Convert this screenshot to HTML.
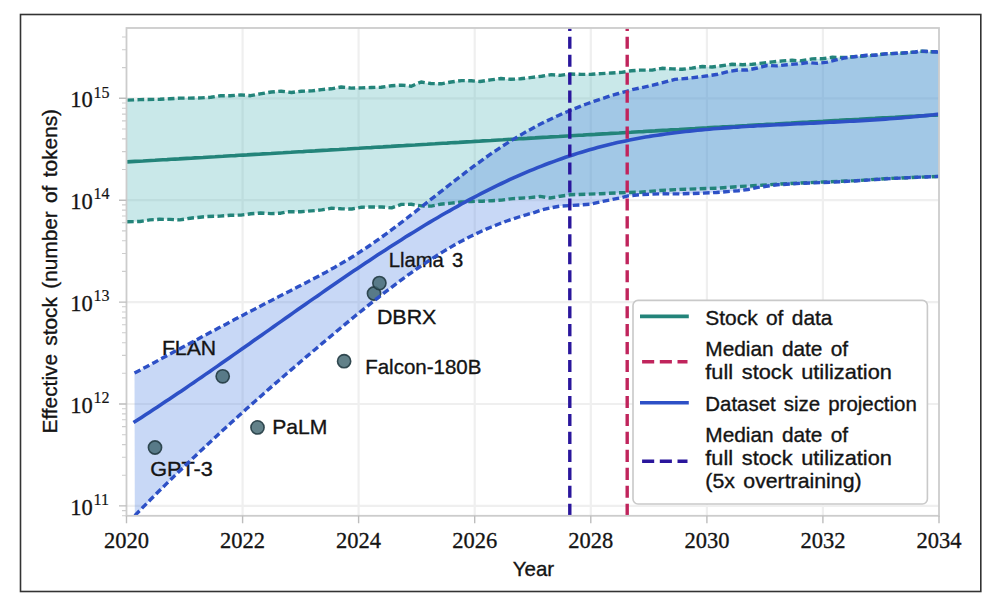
<!DOCTYPE html><html><head><meta charset="utf-8"><style>html,body{margin:0;padding:0;background:#fff;overflow:hidden;width:987px;height:595px;}svg{display:block;}</style></head><body><svg width="987" height="595" viewBox="0 0 987 595">
<rect x="0" y="0" width="987" height="595" fill="#fff"/>
<rect x="20.5" y="14.5" width="960.3" height="577" fill="none" stroke="#333" stroke-width="1.6"/>
<defs><clipPath id="ax"><rect x="126.5" y="28.0" width="812.5" height="487.8"/></clipPath></defs>
<path d="M242.6,28.0V515.8M358.6,28.0V515.8M474.7,28.0V515.8M590.8,28.0V515.8M706.9,28.0V515.8M822.9,28.0V515.8M126.5,505.9H939.0M126.5,404.0H939.0M126.5,302.1H939.0M126.5,200.2H939.0M126.5,98.3H939.0" stroke="#efefef" stroke-width="2.2" fill="none"/>
<g clip-path="url(#ax)">
<path d="M126.5,100.1L127.4,100.1 L140.0,99.6 L160.0,99.3 L170.0,98.7 L180.0,98.1 L189.7,98.1 L201.1,97.9 L210.8,97.3 L220.5,95.7 L230.2,95.7 L240.8,94.9 L250.5,95.7 L260.0,93.9 L271.3,92.0 L281.1,91.2 L291.6,92.5 L301.3,91.2 L311.9,90.9 L321.6,89.6 L331.3,88.8 L341.3,87.0 L351.1,88.1 L361.6,87.9 L371.3,87.5 L381.1,87.3 L391.6,85.7 L401.3,85.1 L411.3,86.2 L421.1,82.0 L430.8,83.5 L441.3,83.8 L451.0,82.0 L461.6,80.6 L471.3,80.8 L480.0,81.5 L490.5,79.9 L501.0,78.5 L510.8,79.3 L520.5,78.8 L531.9,77.4 L541.6,76.2 L551.3,74.6 L560.0,75.4 L569.7,74.0 L581.1,74.4 L591.6,74.3 L601.3,73.6 L611.9,73.0 L621.6,72.4 L631.3,70.8 L640.0,70.1 L652.2,70.1 L661.9,68.3 L672.4,68.9 L682.1,69.3 L691.9,68.1 L702.4,66.5 L712.1,67.0 L720.0,66.0 L732.2,64.3 L742.7,64.7 L752.4,64.3 L762.1,63.1 L772.7,61.9 L782.4,60.9 L792.1,60.3 L800.0,60.9 L812.2,58.9 L822.7,58.7 L832.4,57.3 L845.4,57.5 L856.7,56.4 L870.0,55.6 L885.2,53.9 L900.4,53.2 L915.6,52.0 L920.2,51.2 L930.8,51.7 L939.0,51.8 L939.0,176.4 L884.8,178.7 L857.1,180.6 L823.8,182.0 L780.0,184.0 L753.0,185.8 L740.8,186.4 L716.5,188.2 L680.0,189.4 L660.0,190.5 L640.0,192.2 L621.0,192.7 L600.8,193.7 L570.4,194.7 L560.3,196.2 L550.1,198.0 L540.0,196.4 L530.0,197.6 L520.0,198.2 L512.9,198.6 L501.6,200.1 L491.9,200.7 L482.1,201.2 L471.6,201.5 L461.1,202.0 L451.3,203.1 L440.0,204.3 L431.3,206.1 L421.6,205.9 L411.1,204.3 L401.3,204.4 L391.6,207.9 L381.9,207.0 L372.2,207.0 L361.6,207.2 L351.8,209.0 L341.3,208.8 L331.6,208.2 L321.8,209.9 L311.3,210.9 L300.8,211.7 L287.0,211.8 L280.7,213.2 L271.0,213.6 L260.5,213.0 L250.8,213.8 L241.0,215.1 L230.5,215.3 L220.0,216.1 L207.0,216.5 L199.9,217.2 L190.2,218.2 L179.7,219.9 L170.0,219.4 L159.4,219.3 L149.7,219.9 L140.0,221.5 L127.0,221.7 L126.5,221.7Z" fill="#5ab8bd" fill-opacity="0.33"/>
<path d="M134.5,373.1 L138.5,371.0 L142.5,368.8 L146.5,366.7 L150.5,364.5 L154.5,362.4 L158.5,360.2 L162.5,358.1 L166.5,355.9 L170.5,353.8 L174.5,351.6 L178.5,349.5 L182.5,347.3 L186.5,345.2 L190.5,343.0 L194.5,340.9 L198.5,338.8 L202.5,336.6 L206.5,334.5 L210.5,332.3 L214.5,330.2 L218.5,328.1 L222.5,326.0 L226.5,323.9 L230.5,321.7 L234.5,319.6 L238.5,317.5 L242.5,315.4 L246.5,313.3 L250.5,311.2 L254.5,309.2 L258.5,307.1 L262.5,305.0 L266.5,302.9 L270.5,300.9 L274.5,298.8 L278.5,296.8 L282.5,294.7 L286.5,292.7 L290.5,290.7 L294.5,288.6 L298.5,286.6 L302.5,284.5 L306.5,282.5 L310.5,280.4 L314.5,278.3 L318.5,276.2 L322.5,274.0 L326.5,271.9 L330.5,269.6 L334.5,267.4 L338.5,265.1 L342.5,262.8 L346.5,260.4 L350.5,258.0 L354.5,255.5 L358.5,252.9 L362.5,250.3 L366.5,247.7 L370.5,245.0 L374.5,242.2 L378.5,239.4 L382.5,236.5 L386.5,233.6 L390.5,230.6 L394.5,227.6 L398.5,224.6 L402.5,221.6 L406.5,218.5 L410.5,215.4 L414.5,212.3 L418.5,209.2 L422.5,206.0 L426.5,202.9 L430.5,199.7 L434.5,196.6 L438.5,193.4 L442.5,190.3 L446.5,187.1 L450.5,184.0 L454.5,180.9 L458.5,177.8 L462.5,174.8 L466.5,171.7 L470.5,168.7 L474.5,165.7 L478.5,162.8 L482.5,159.9 L486.5,157.0 L490.5,154.2 L494.5,151.5 L498.5,148.8 L502.5,146.1 L506.5,143.6 L510.5,141.0 L514.5,138.6 L518.5,136.2 L522.5,133.9 L526.5,131.6 L530.5,129.4 L534.5,127.2 L538.5,125.1 L542.5,123.1 L546.5,121.1 L550.5,119.2 L554.5,117.3 L558.5,115.5 L562.5,113.7 L566.5,112.0 L570.5,110.3 L574.5,108.7 L578.5,107.1 L582.5,105.5 L586.5,104.0 L590.5,102.6 L594.5,101.2 L598.5,99.8 L602.5,98.5 L606.5,97.2 L610.5,95.9 L614.5,94.7 L618.5,93.5 L622.5,92.4 L626.5,91.3 L630.5,90.2 L634.5,89.1 L640.0,88.0 L646.4,86.6 L661.7,83.0 L674.8,79.4 L688.6,78.2 L698.3,77.0 L708.1,75.8 L717.8,74.2 L728.1,71.6 L737.8,70.0 L747.6,70.0 L757.3,68.0 L767.0,65.5 L776.7,65.9 L787.3,64.7 L797.8,63.9 L808.1,62.6 L817.8,63.4 L827.6,62.1 L837.3,59.7 L845.4,57.7 L856.7,56.5 L866.5,55.3 L875.0,55.2 L885.2,53.9 L900.4,53.2 L915.6,52.0 L920.2,51.0 L930.8,51.7 L939.0,52.0 L939.0,176.4 L910.0,177.6 L884.8,178.9 L857.1,180.8 L830.0,182.3 L800.0,183.4 L777.3,184.8 L757.8,187.4 L748.0,189.5 L738.4,190.7 L716.5,192.5 L700.0,193.2 L680.0,193.9 L660.0,193.8 L640.0,194.6 L628.1,195.9 L621.0,197.7 L610.9,199.8 L600.8,201.8 L590.7,204.2 L580.5,204.9 L569.4,205.6 L560.3,206.1 L550.1,207.9 L540.0,210.4 L534.8,212.3 L530.8,213.4 L526.8,214.6 L522.8,215.7 L518.8,217.0 L514.8,218.3 L510.8,219.6 L506.8,221.0 L502.8,222.5 L498.8,224.0 L494.8,225.6 L490.8,227.2 L486.8,228.9 L482.8,230.6 L478.8,232.5 L474.8,234.4 L470.8,236.3 L466.8,238.3 L462.8,240.4 L458.8,242.6 L454.8,244.8 L450.8,247.1 L446.8,249.5 L442.8,251.9 L438.8,254.3 L434.8,256.9 L430.8,259.4 L426.8,262.1 L422.8,264.8 L418.8,267.5 L414.8,270.3 L410.8,273.1 L406.8,275.9 L402.8,278.9 L398.8,281.8 L394.8,284.8 L390.8,287.8 L386.8,290.9 L382.8,293.9 L378.8,297.1 L374.8,300.2 L370.8,303.4 L366.8,306.6 L362.8,309.8 L358.8,313.0 L354.8,316.3 L350.8,319.6 L346.8,322.9 L342.8,326.2 L338.8,329.5 L334.8,332.9 L330.8,336.2 L326.8,339.6 L322.8,342.9 L318.8,346.3 L314.8,349.7 L310.8,353.0 L306.8,356.4 L302.8,359.8 L298.8,363.3 L294.8,366.7 L290.8,370.1 L286.8,373.5 L282.8,377.0 L278.8,380.5 L274.8,383.9 L270.8,387.4 L266.8,390.9 L262.8,394.4 L258.8,398.0 L254.8,401.5 L250.8,405.0 L246.8,408.6 L242.8,412.2 L238.8,415.8 L234.8,419.4 L230.8,423.0 L226.8,426.7 L222.8,430.3 L218.8,434.0 L214.8,437.7 L210.8,441.4 L206.8,445.1 L202.8,448.9 L198.8,452.6 L194.8,456.4 L190.8,460.2 L186.8,464.0 L182.8,467.9 L178.8,471.7 L174.8,475.6 L170.8,479.5 L166.8,483.4 L162.8,487.4 L158.8,491.3 L154.8,495.3 L150.8,499.3 L146.8,503.4 L142.8,507.4 L138.8,511.5 L134.8,515.6Z" fill="#4a7de0" fill-opacity="0.3"/>
</g>
<circle cx="155" cy="447.5" r="6.6" fill="#40656f" fill-opacity="0.82" stroke="#233c44" stroke-width="1.6" stroke-opacity="0.9"/>
<circle cx="222.7" cy="376.3" r="6.6" fill="#40656f" fill-opacity="0.82" stroke="#233c44" stroke-width="1.6" stroke-opacity="0.9"/>
<circle cx="257.5" cy="427.4" r="6.6" fill="#40656f" fill-opacity="0.82" stroke="#233c44" stroke-width="1.6" stroke-opacity="0.9"/>
<circle cx="344.1" cy="361.2" r="6.6" fill="#40656f" fill-opacity="0.82" stroke="#233c44" stroke-width="1.6" stroke-opacity="0.9"/>
<circle cx="374" cy="293.5" r="6.6" fill="#40656f" fill-opacity="0.82" stroke="#233c44" stroke-width="1.6" stroke-opacity="0.9"/>
<circle cx="379.4" cy="283.1" r="6.6" fill="#40656f" fill-opacity="0.82" stroke="#233c44" stroke-width="1.6" stroke-opacity="0.9"/>
<text x="150.3" y="475.5" font-family="Liberation Sans, Arial, sans-serif" font-size="21.0" fill="#141414" stroke="#141414" stroke-width="0.35" word-spacing="2.5" textLength="62.5" lengthAdjust="spacingAndGlyphs">GPT-3</text>
<text x="161.9" y="354.8" font-family="Liberation Sans, Arial, sans-serif" font-size="21.0" fill="#141414" stroke="#141414" stroke-width="0.35" word-spacing="2.5" textLength="54.2" lengthAdjust="spacingAndGlyphs">FLAN</text>
<text x="272.2" y="434.2" font-family="Liberation Sans, Arial, sans-serif" font-size="21.0" fill="#141414" stroke="#141414" stroke-width="0.35" word-spacing="2.5" textLength="55.2" lengthAdjust="spacingAndGlyphs">PaLM</text>
<text x="365.2" y="373.7" font-family="Liberation Sans, Arial, sans-serif" font-size="21.0" fill="#141414" stroke="#141414" stroke-width="0.35" word-spacing="2.5" textLength="116.2" lengthAdjust="spacingAndGlyphs">Falcon-180B</text>
<text x="376.9" y="324" font-family="Liberation Sans, Arial, sans-serif" font-size="21.0" fill="#141414" stroke="#141414" stroke-width="0.35" word-spacing="2.5" textLength="59.5" lengthAdjust="spacingAndGlyphs">DBRX</text>
<text x="388.7" y="266.7" font-family="Liberation Sans, Arial, sans-serif" font-size="21.0" fill="#141414" stroke="#141414" stroke-width="0.35" word-spacing="2.5" textLength="74.5" lengthAdjust="spacingAndGlyphs">Llama 3</text>
<g clip-path="url(#ax)" fill="none" stroke-linejoin="round">
<path d="M127.4,100.1 L140.0,99.6 L160.0,99.3 L170.0,98.7 L180.0,98.1 L189.7,98.1 L201.1,97.9 L210.8,97.3 L220.5,95.7 L230.2,95.7 L240.8,94.9 L250.5,95.7 L260.0,93.9 L271.3,92.0 L281.1,91.2 L291.6,92.5 L301.3,91.2 L311.9,90.9 L321.6,89.6 L331.3,88.8 L341.3,87.0 L351.1,88.1 L361.6,87.9 L371.3,87.5 L381.1,87.3 L391.6,85.7 L401.3,85.1 L411.3,86.2 L421.1,82.0 L430.8,83.5 L441.3,83.8 L451.0,82.0 L461.6,80.6 L471.3,80.8 L480.0,81.5 L490.5,79.9 L501.0,78.5 L510.8,79.3 L520.5,78.8 L531.9,77.4 L541.6,76.2 L551.3,74.6 L560.0,75.4 L569.7,74.0 L581.1,74.4 L591.6,74.3 L601.3,73.6 L611.9,73.0 L621.6,72.4 L631.3,70.8 L640.0,70.1 L652.2,70.1 L661.9,68.3 L672.4,68.9 L682.1,69.3 L691.9,68.1 L702.4,66.5 L712.1,67.0 L720.0,66.0 L732.2,64.3 L742.7,64.7 L752.4,64.3 L762.1,63.1 L772.7,61.9 L782.4,60.9 L792.1,60.3 L800.0,60.9 L812.2,58.9 L822.7,58.7 L832.4,57.3 L845.4,57.5 L856.7,56.4 L870.0,55.6 L885.2,53.9 L900.4,53.2 L915.6,52.0 L920.2,51.2 L930.8,51.7 L939.0,51.8" stroke="#23847a" stroke-width="3.4" stroke-dasharray="6.7 3.4"/>
<path d="M127.0,221.7 L140.0,221.5 L149.7,219.9 L159.4,219.3 L170.0,219.4 L179.7,219.9 L190.2,218.2 L199.9,217.2 L207.0,216.5 L220.0,216.1 L230.5,215.3 L241.0,215.1 L250.8,213.8 L260.5,213.0 L271.0,213.6 L280.7,213.2 L287.0,211.8 L300.8,211.7 L311.3,210.9 L321.8,209.9 L331.6,208.2 L341.3,208.8 L351.8,209.0 L361.6,207.2 L372.2,207.0 L381.9,207.0 L391.6,207.9 L401.3,204.4 L411.1,204.3 L421.6,205.9 L431.3,206.1 L440.0,204.3 L451.3,203.1 L461.1,202.0 L471.6,201.5 L482.1,201.2 L491.9,200.7 L501.6,200.1 L512.9,198.6 L520.0,198.2 L530.0,197.6 L540.0,196.4 L550.1,198.0 L560.3,196.2 L570.4,194.7 L600.8,193.7 L621.0,192.7 L640.0,192.2 L660.0,190.5 L680.0,189.4 L716.5,188.2 L740.8,186.4 L753.0,185.8 L780.0,184.0 L823.8,182.0 L857.1,180.6 L884.8,178.7 L939.0,176.4" stroke="#23847a" stroke-width="3.4" stroke-dasharray="6.7 3.4"/>
<path d="M127.0,161.9 L131.0,161.6 L135.0,161.4 L139.0,161.2 L143.0,161.0 L147.0,160.7 L151.0,160.5 L155.0,160.3 L159.0,160.0 L163.0,159.8 L167.0,159.6 L171.0,159.3 L175.0,159.1 L179.0,158.9 L183.0,158.6 L187.0,158.4 L191.0,158.2 L195.0,157.9 L199.0,157.7 L203.0,157.5 L207.0,157.2 L211.0,157.0 L215.0,156.8 L219.0,156.5 L223.0,156.3 L227.0,156.0 L231.0,155.8 L235.0,155.6 L239.0,155.3 L243.0,155.1 L247.0,154.9 L251.0,154.6 L255.0,154.4 L259.0,154.2 L263.0,153.9 L267.0,153.7 L271.0,153.5 L275.0,153.2 L279.0,153.0 L283.0,152.8 L287.0,152.5 L291.0,152.3 L295.0,152.0 L299.0,151.8 L303.0,151.6 L307.0,151.3 L311.0,151.1 L315.0,150.9 L319.0,150.6 L323.0,150.4 L327.0,150.2 L331.0,149.9 L335.0,149.7 L339.0,149.5 L343.0,149.2 L347.0,149.0 L351.0,148.7 L355.0,148.5 L359.0,148.3 L363.0,148.0 L367.0,147.8 L371.0,147.6 L375.0,147.3 L379.0,147.1 L383.0,146.9 L387.0,146.6 L391.0,146.4 L395.0,146.1 L399.0,145.9 L403.0,145.7 L407.0,145.4 L411.0,145.2 L415.0,145.0 L419.0,144.7 L423.0,144.5 L427.0,144.3 L431.0,144.0 L435.0,143.8 L439.0,143.5 L443.0,143.3 L447.0,143.1 L451.0,142.8 L455.0,142.6 L459.0,142.4 L463.0,142.1 L467.0,141.9 L471.0,141.7 L475.0,141.4 L479.0,141.2 L483.0,140.9 L487.0,140.7 L491.0,140.5 L495.0,140.2 L499.0,140.0 L503.0,139.8 L507.0,139.5 L511.0,139.3 L515.0,139.1 L519.0,138.8 L523.0,138.6 L527.0,138.4 L531.0,138.1 L535.0,137.9 L539.0,137.6 L543.0,137.4 L547.0,137.2 L551.0,136.9 L555.0,136.7 L559.0,136.5 L563.0,136.2 L567.0,136.0 L571.0,135.8 L575.0,135.5 L579.0,135.3 L583.0,135.1 L587.0,134.8 L591.0,134.6 L595.0,134.4 L599.0,134.1 L603.0,133.9 L607.0,133.7 L611.0,133.4 L615.0,133.2 L619.0,133.0 L623.0,132.7 L627.0,132.5 L631.0,132.3 L635.0,132.0 L639.0,131.8 L643.0,131.6 L647.0,131.3 L651.0,131.1 L655.0,130.9 L659.0,130.6 L663.0,130.4 L667.0,130.2 L671.0,129.9 L675.0,129.7 L679.0,129.5 L683.0,129.2 L687.0,129.0 L691.0,128.8 L695.0,128.6 L699.0,128.3 L703.0,128.1 L707.0,127.9 L711.0,127.6 L715.0,127.4 L719.0,127.2 L723.0,126.9 L727.0,126.7 L731.0,126.5 L735.0,126.3 L739.0,126.0 L743.0,125.8 L747.0,125.6 L751.0,125.3 L755.0,125.1 L759.0,124.9 L763.0,124.7 L767.0,124.4 L771.0,124.2 L775.0,124.0 L779.0,123.7 L783.0,123.5 L787.0,123.3 L791.0,123.1 L795.0,122.8 L799.0,122.6 L803.0,122.4 L807.0,122.2 L811.0,121.9 L815.0,121.7 L819.0,121.5 L823.0,121.3 L827.0,121.0 L831.0,120.8 L835.0,120.6 L839.0,120.4 L843.0,120.1 L847.0,119.9 L851.0,119.7 L855.0,119.5 L859.0,119.3 L863.0,119.0 L867.0,118.8 L871.0,118.6 L875.0,118.4 L879.0,118.1 L883.0,117.9 L887.0,117.7 L891.0,117.5 L895.0,117.3 L899.0,117.0 L903.0,116.8 L907.0,116.6 L911.0,116.4 L915.0,116.2 L919.0,115.9 L923.0,115.7 L927.0,115.5 L931.0,115.3 L935.0,115.1 L939.0,114.9" stroke="#23847a" stroke-width="3.6"/>
<path d="M134.5,373.1 L138.5,371.0 L142.5,368.8 L146.5,366.7 L150.5,364.5 L154.5,362.4 L158.5,360.2 L162.5,358.1 L166.5,355.9 L170.5,353.8 L174.5,351.6 L178.5,349.5 L182.5,347.3 L186.5,345.2 L190.5,343.0 L194.5,340.9 L198.5,338.8 L202.5,336.6 L206.5,334.5 L210.5,332.3 L214.5,330.2 L218.5,328.1 L222.5,326.0 L226.5,323.9 L230.5,321.7 L234.5,319.6 L238.5,317.5 L242.5,315.4 L246.5,313.3 L250.5,311.2 L254.5,309.2 L258.5,307.1 L262.5,305.0 L266.5,302.9 L270.5,300.9 L274.5,298.8 L278.5,296.8 L282.5,294.7 L286.5,292.7 L290.5,290.7 L294.5,288.6 L298.5,286.6 L302.5,284.5 L306.5,282.5 L310.5,280.4 L314.5,278.3 L318.5,276.2 L322.5,274.0 L326.5,271.9 L330.5,269.6 L334.5,267.4 L338.5,265.1 L342.5,262.8 L346.5,260.4 L350.5,258.0 L354.5,255.5 L358.5,252.9 L362.5,250.3 L366.5,247.7 L370.5,245.0 L374.5,242.2 L378.5,239.4 L382.5,236.5 L386.5,233.6 L390.5,230.6 L394.5,227.6 L398.5,224.6 L402.5,221.6 L406.5,218.5 L410.5,215.4 L414.5,212.3 L418.5,209.2 L422.5,206.0 L426.5,202.9 L430.5,199.7 L434.5,196.6 L438.5,193.4 L442.5,190.3 L446.5,187.1 L450.5,184.0 L454.5,180.9 L458.5,177.8 L462.5,174.8 L466.5,171.7 L470.5,168.7 L474.5,165.7 L478.5,162.8 L482.5,159.9 L486.5,157.0 L490.5,154.2 L494.5,151.5 L498.5,148.8 L502.5,146.1 L506.5,143.6 L510.5,141.0 L514.5,138.6 L518.5,136.2 L522.5,133.9 L526.5,131.6 L530.5,129.4 L534.5,127.2 L538.5,125.1 L542.5,123.1 L546.5,121.1 L550.5,119.2 L554.5,117.3 L558.5,115.5 L562.5,113.7 L566.5,112.0 L570.5,110.3 L574.5,108.7 L578.5,107.1 L582.5,105.5 L586.5,104.0 L590.5,102.6 L594.5,101.2 L598.5,99.8 L602.5,98.5 L606.5,97.2 L610.5,95.9 L614.5,94.7 L618.5,93.5 L622.5,92.4 L626.5,91.3 L630.5,90.2 L634.5,89.1 L640.0,88.0 L646.4,86.6 L661.7,83.0 L674.8,79.4 L688.6,78.2 L698.3,77.0 L708.1,75.8 L717.8,74.2 L728.1,71.6 L737.8,70.0 L747.6,70.0 L757.3,68.0 L767.0,65.5 L776.7,65.9 L787.3,64.7 L797.8,63.9 L808.1,62.6 L817.8,63.4 L827.6,62.1 L837.3,59.7 L845.4,57.7 L856.7,56.5 L866.5,55.3 L875.0,55.2 L885.2,53.9 L900.4,53.2 L915.6,52.0 L920.2,51.0 L930.8,51.7 L939.0,52.0" stroke="#2d50c6" stroke-width="3.4" stroke-dasharray="6.7 3.4"/>
<path d="M134.8,515.6 L138.8,511.5 L142.8,507.4 L146.8,503.4 L150.8,499.3 L154.8,495.3 L158.8,491.3 L162.8,487.4 L166.8,483.4 L170.8,479.5 L174.8,475.6 L178.8,471.7 L182.8,467.9 L186.8,464.0 L190.8,460.2 L194.8,456.4 L198.8,452.6 L202.8,448.9 L206.8,445.1 L210.8,441.4 L214.8,437.7 L218.8,434.0 L222.8,430.3 L226.8,426.7 L230.8,423.0 L234.8,419.4 L238.8,415.8 L242.8,412.2 L246.8,408.6 L250.8,405.0 L254.8,401.5 L258.8,398.0 L262.8,394.4 L266.8,390.9 L270.8,387.4 L274.8,383.9 L278.8,380.5 L282.8,377.0 L286.8,373.5 L290.8,370.1 L294.8,366.7 L298.8,363.3 L302.8,359.8 L306.8,356.4 L310.8,353.0 L314.8,349.7 L318.8,346.3 L322.8,342.9 L326.8,339.6 L330.8,336.2 L334.8,332.9 L338.8,329.5 L342.8,326.2 L346.8,322.9 L350.8,319.6 L354.8,316.3 L358.8,313.0 L362.8,309.8 L366.8,306.6 L370.8,303.4 L374.8,300.2 L378.8,297.1 L382.8,293.9 L386.8,290.9 L390.8,287.8 L394.8,284.8 L398.8,281.8 L402.8,278.9 L406.8,275.9 L410.8,273.1 L414.8,270.3 L418.8,267.5 L422.8,264.8 L426.8,262.1 L430.8,259.4 L434.8,256.9 L438.8,254.3 L442.8,251.9 L446.8,249.5 L450.8,247.1 L454.8,244.8 L458.8,242.6 L462.8,240.4 L466.8,238.3 L470.8,236.3 L474.8,234.4 L478.8,232.5 L482.8,230.6 L486.8,228.9 L490.8,227.2 L494.8,225.6 L498.8,224.0 L502.8,222.5 L506.8,221.0 L510.8,219.6 L514.8,218.3 L518.8,217.0 L522.8,215.7 L526.8,214.6 L530.8,213.4 L534.8,212.3 L540.0,210.4 L550.1,207.9 L560.3,206.1 L569.4,205.6 L580.5,204.9 L590.7,204.2 L600.8,201.8 L610.9,199.8 L621.0,197.7 L628.1,195.9 L640.0,194.6 L660.0,193.8 L680.0,193.9 L700.0,193.2 L716.5,192.5 L738.4,190.7 L748.0,189.5 L757.8,187.4 L777.3,184.8 L800.0,183.4 L830.0,182.3 L857.1,180.8 L884.8,178.9 L910.0,177.6 L939.0,176.4" stroke="#2d50c6" stroke-width="3.4" stroke-dasharray="6.7 3.4"/>
<path d="M133.5,422.5 L137.5,420.0 L141.5,417.4 L145.5,414.8 L149.5,412.2 L153.5,409.6 L157.5,406.9 L161.5,404.3 L165.5,401.6 L169.5,399.0 L173.5,396.3 L177.5,393.6 L181.5,390.9 L185.5,388.2 L189.5,385.4 L193.5,382.7 L197.5,379.9 L201.5,377.2 L205.5,374.4 L209.5,371.7 L213.5,368.9 L217.5,366.1 L221.5,363.3 L225.5,360.5 L229.5,357.7 L233.5,354.9 L237.5,352.1 L241.5,349.3 L245.5,346.5 L249.5,343.7 L253.5,340.8 L257.5,338.0 L261.5,335.2 L265.5,332.4 L269.5,329.6 L273.5,326.7 L277.5,323.9 L281.5,321.1 L285.5,318.3 L289.5,315.5 L293.5,312.6 L297.5,309.8 L301.5,307.0 L305.5,304.2 L309.5,301.4 L313.5,298.6 L317.5,295.9 L321.5,293.1 L325.5,290.3 L329.5,287.5 L333.5,284.8 L337.5,282.0 L341.5,279.3 L345.5,276.6 L349.5,273.8 L353.5,271.1 L357.5,268.4 L361.5,265.8 L365.5,263.1 L369.5,260.4 L373.5,257.8 L377.5,255.1 L381.5,252.5 L385.5,249.9 L389.5,247.3 L393.5,244.7 L397.5,242.2 L401.5,239.7 L405.5,237.1 L409.5,234.6 L413.5,232.2 L417.5,229.7 L421.5,227.2 L425.5,224.8 L429.5,222.4 L433.5,220.0 L437.5,217.7 L441.5,215.3 L445.5,213.0 L449.5,210.8 L453.5,208.5 L457.5,206.3 L461.5,204.0 L465.5,201.9 L469.5,199.7 L473.5,197.6 L477.5,195.5 L481.5,193.4 L485.5,191.3 L489.5,189.3 L493.5,187.3 L497.5,185.4 L501.5,183.5 L505.5,181.6 L509.5,179.7 L513.5,177.9 L517.5,176.1 L521.5,174.3 L525.5,172.6 L529.5,170.9 L533.5,169.3 L537.5,167.7 L541.5,166.1 L545.5,164.5 L549.5,163.0 L553.5,161.6 L557.5,160.1 L561.5,158.7 L565.5,157.3 L569.5,156.0 L573.5,154.7 L577.5,153.4 L581.5,152.2 L585.5,151.0 L589.5,149.8 L593.5,148.7 L597.5,147.6 L601.5,146.5 L605.5,145.5 L609.5,144.5 L613.5,143.6 L617.5,142.6 L621.5,141.7 L625.5,140.9 L629.5,140.1 L633.5,139.3 L637.5,138.5 L641.5,137.8 L645.5,137.1 L649.5,136.4 L653.5,135.8 L657.5,135.2 L661.5,134.6 L665.5,134.0 L669.5,133.5 L673.5,132.9 L677.5,132.5 L681.5,132.0 L685.5,131.5 L689.5,131.1 L693.5,130.7 L697.5,130.3 L701.5,129.9 L705.5,129.5 L709.5,129.2 L713.5,128.8 L717.5,128.5 L721.5,128.2 L725.5,127.9 L729.5,127.6 L733.5,127.3 L737.5,127.1 L741.5,126.8 L745.5,126.5 L749.5,126.3 L753.5,126.1 L757.5,125.8 L761.5,125.6 L765.5,125.4 L769.5,125.2 L773.5,125.0 L777.5,124.8 L781.5,124.6 L785.5,124.4 L789.5,124.2 L793.5,124.0 L797.5,123.8 L801.5,123.6 L805.5,123.4 L809.5,123.2 L813.5,123.1 L817.5,122.9 L821.5,122.7 L825.5,122.5 L829.5,122.3 L833.5,122.1 L837.5,121.9 L841.5,121.7 L845.5,121.5 L849.5,121.3 L853.5,121.1 L857.5,120.9 L861.5,120.6 L865.5,120.4 L869.5,120.2 L873.5,119.9 L877.5,119.6 L881.5,119.4 L885.5,119.1 L889.5,118.8 L893.5,118.5 L897.5,118.2 L901.5,117.9 L905.5,117.5 L909.5,117.2 L913.5,116.8 L917.5,116.4 L921.5,116.0 L925.5,115.6 L929.5,115.2 L933.5,114.8 L937.5,114.3 L939.0,114.2" stroke="#2d50c6" stroke-width="3.6"/>
<line x1="569.8" y1="515.8" x2="569.8" y2="28.0" stroke="#2a169c" stroke-width="3.4" stroke-dasharray="12.1 5.86"/>
<line x1="627.2" y1="515.8" x2="627.2" y2="28.0" stroke="#c0245c" stroke-width="3.4" stroke-dasharray="12.1 5.86"/>
</g>
<rect x="126.5" y="28.0" width="812.5" height="487.8" fill="none" stroke="#cccccc" stroke-width="1.8"/>
<path d="M126.5,515.8v7.5M242.6,515.8v7.5M358.6,515.8v7.5M474.7,515.8v7.5M590.8,515.8v7.5M706.9,515.8v7.5M822.9,515.8v7.5M939.0,515.8v7.5M126.5,505.9h-7.5M126.5,404.0h-7.5M126.5,302.1h-7.5M126.5,200.2h-7.5M126.5,98.3h-7.5" stroke="#bdbdbd" stroke-width="1.4" fill="none"/>
<path d="M126.5,515.8h-4.5M126.5,510.6h-4.5M126.5,475.2h-4.5M126.5,457.3h-4.5M126.5,444.6h-4.5M126.5,434.7h-4.5M126.5,426.6h-4.5M126.5,419.8h-4.5M126.5,413.9h-4.5M126.5,408.7h-4.5M126.5,373.3h-4.5M126.5,355.4h-4.5M126.5,342.7h-4.5M126.5,332.8h-4.5M126.5,324.7h-4.5M126.5,317.9h-4.5M126.5,312.0h-4.5M126.5,306.8h-4.5M126.5,271.4h-4.5M126.5,253.5h-4.5M126.5,240.8h-4.5M126.5,230.9h-4.5M126.5,222.8h-4.5M126.5,216.0h-4.5M126.5,210.1h-4.5M126.5,204.9h-4.5M126.5,169.5h-4.5M126.5,151.6h-4.5M126.5,138.9h-4.5M126.5,129.0h-4.5M126.5,120.9h-4.5M126.5,114.1h-4.5M126.5,108.2h-4.5M126.5,103.0h-4.5M126.5,67.6h-4.5M126.5,49.7h-4.5M126.5,37.0h-4.5" stroke="#cdcdcd" stroke-width="1.1" fill="none"/>
<text x="126.5" y="548" font-family="Liberation Serif, Times New Roman, serif" font-size="22.5" fill="#141414" stroke="#141414" stroke-width="0.3" text-anchor="middle">2020</text>
<text x="242.6" y="548" font-family="Liberation Serif, Times New Roman, serif" font-size="22.5" fill="#141414" stroke="#141414" stroke-width="0.3" text-anchor="middle">2022</text>
<text x="358.6" y="548" font-family="Liberation Serif, Times New Roman, serif" font-size="22.5" fill="#141414" stroke="#141414" stroke-width="0.3" text-anchor="middle">2024</text>
<text x="474.7" y="548" font-family="Liberation Serif, Times New Roman, serif" font-size="22.5" fill="#141414" stroke="#141414" stroke-width="0.3" text-anchor="middle">2026</text>
<text x="590.8" y="548" font-family="Liberation Serif, Times New Roman, serif" font-size="22.5" fill="#141414" stroke="#141414" stroke-width="0.3" text-anchor="middle">2028</text>
<text x="706.9" y="548" font-family="Liberation Serif, Times New Roman, serif" font-size="22.5" fill="#141414" stroke="#141414" stroke-width="0.3" text-anchor="middle">2030</text>
<text x="822.9" y="548" font-family="Liberation Serif, Times New Roman, serif" font-size="22.5" fill="#141414" stroke="#141414" stroke-width="0.3" text-anchor="middle">2032</text>
<text x="939.0" y="548" font-family="Liberation Serif, Times New Roman, serif" font-size="22.5" fill="#141414" stroke="#141414" stroke-width="0.3" text-anchor="middle">2034</text>
<text x="70.2" y="514.6" font-family="Liberation Serif, Times New Roman, serif" font-size="22.5" fill="#141414" stroke="#141414" stroke-width="0.3">10</text>
<text x="93.6" y="505.1" font-family="Liberation Serif, Times New Roman, serif" font-size="16" fill="#141414" stroke="#141414" stroke-width="0.2">11</text>
<text x="70.2" y="412.7" font-family="Liberation Serif, Times New Roman, serif" font-size="22.5" fill="#141414" stroke="#141414" stroke-width="0.3">10</text>
<text x="93.6" y="403.2" font-family="Liberation Serif, Times New Roman, serif" font-size="16" fill="#141414" stroke="#141414" stroke-width="0.2">12</text>
<text x="70.2" y="310.8" font-family="Liberation Serif, Times New Roman, serif" font-size="22.5" fill="#141414" stroke="#141414" stroke-width="0.3">10</text>
<text x="93.6" y="301.3" font-family="Liberation Serif, Times New Roman, serif" font-size="16" fill="#141414" stroke="#141414" stroke-width="0.2">13</text>
<text x="70.2" y="208.9" font-family="Liberation Serif, Times New Roman, serif" font-size="22.5" fill="#141414" stroke="#141414" stroke-width="0.3">10</text>
<text x="93.6" y="199.4" font-family="Liberation Serif, Times New Roman, serif" font-size="16" fill="#141414" stroke="#141414" stroke-width="0.2">14</text>
<text x="70.2" y="107.0" font-family="Liberation Serif, Times New Roman, serif" font-size="22.5" fill="#141414" stroke="#141414" stroke-width="0.3">10</text>
<text x="93.6" y="97.5" font-family="Liberation Serif, Times New Roman, serif" font-size="16" fill="#141414" stroke="#141414" stroke-width="0.2">15</text>
<text x="512.7" y="575.9" font-family="Liberation Sans, Arial, sans-serif" font-size="21.0" fill="#141414" stroke="#141414" stroke-width="0.35" word-spacing="2.5" textLength="41.5" lengthAdjust="spacingAndGlyphs">Year</text>
<text transform="translate(57,433.5) rotate(-90)" x="0" y="0" font-family="Liberation Sans, Arial, sans-serif" font-size="21.0" fill="#141414" stroke="#141414" stroke-width="0.35" word-spacing="2.5" textLength="324.5" lengthAdjust="spacingAndGlyphs">Effective stock (number of tokens)</text>
<rect x="633" y="300.4" width="294.4" height="203.6" rx="5" fill="#fff" stroke="#c9c9c9" stroke-width="1.6"/>
<line x1="640" y1="316.4" x2="688.8" y2="316.4" stroke="#23847a" stroke-width="3.6"/>
<line x1="642.1" y1="361.8" x2="687.5" y2="361.8" stroke="#c0245c" stroke-width="3.4" stroke-dasharray="12.1 5.6"/>
<line x1="640" y1="402.7" x2="688.8" y2="402.7" stroke="#2d50c6" stroke-width="3.6"/>
<line x1="642.1" y1="461.3" x2="687.5" y2="461.3" stroke="#2a169c" stroke-width="3.4" stroke-dasharray="12.1 5.6"/>
<text x="705.3" y="324.9" font-family="Liberation Sans, Arial, sans-serif" font-size="21.0" fill="#141414" stroke="#141414" stroke-width="0.35" word-spacing="2.5" textLength="127.2" lengthAdjust="spacingAndGlyphs">Stock of data</text>
<text x="705.3" y="355.9" font-family="Liberation Sans, Arial, sans-serif" font-size="21.0" fill="#141414" stroke="#141414" stroke-width="0.35" word-spacing="2.5" textLength="142.8" lengthAdjust="spacingAndGlyphs">Median date of</text>
<text x="705.3" y="378.8" font-family="Liberation Sans, Arial, sans-serif" font-size="21.0" fill="#141414" stroke="#141414" stroke-width="0.35" word-spacing="2.5" textLength="186.6" lengthAdjust="spacingAndGlyphs">full stock utilization</text>
<text x="705.3" y="410.7" font-family="Liberation Sans, Arial, sans-serif" font-size="21.0" fill="#141414" stroke="#141414" stroke-width="0.35" word-spacing="2.5" textLength="211.5" lengthAdjust="spacingAndGlyphs">Dataset size projection</text>
<text x="705.3" y="441.9" font-family="Liberation Sans, Arial, sans-serif" font-size="21.0" fill="#141414" stroke="#141414" stroke-width="0.35" word-spacing="2.5" textLength="142.8" lengthAdjust="spacingAndGlyphs">Median date of</text>
<text x="705.3" y="464.8" font-family="Liberation Sans, Arial, sans-serif" font-size="21.0" fill="#141414" stroke="#141414" stroke-width="0.35" word-spacing="2.5" textLength="186.6" lengthAdjust="spacingAndGlyphs">full stock utilization</text>
<text x="705.3" y="488" font-family="Liberation Sans, Arial, sans-serif" font-size="21.0" fill="#141414" stroke="#141414" stroke-width="0.35" word-spacing="2.5" textLength="156.3" lengthAdjust="spacingAndGlyphs">(5x overtraining)</text>
</svg></body></html>
